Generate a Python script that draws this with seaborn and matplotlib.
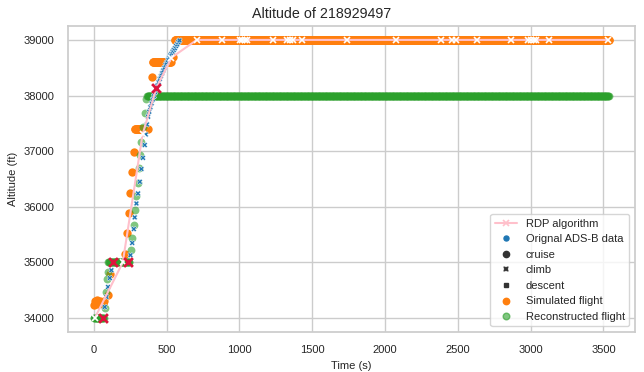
import numpy as np
import pandas as pd
import matplotlib
matplotlib.use("Agg")
import matplotlib.pyplot as plt
import seaborn as sns
from matplotlib.lines import Line2D

sns.set_theme(style="whitegrid")
plt.rcParams["font.family"] = ["Liberation Sans", "DejaVu Sans"]

FLIGHT_ID = "218929497"

# ---- RDP simplified trajectory (vertices) ----
rdp_t = [7, 199, 335, 430, 533, 707, 883, 1002, 1020, 1038, 1055, 1228, 1325,
         1345, 1366, 1428, 1736, 2075, 2386, 2462, 2485, 2632, 2867, 2979,
         3004, 3020, 3038, 3123, 3535]
rdp_alt = [34000, 35000, 37300, 38140, 38680, 39000, 39000, 39000, 39000,
           39000, 39000, 39000, 39000, 39000, 39000, 39000, 39000, 39000,
           39000, 39000, 39000, 39000, 39000, 39000, 39000, 39000, 39000,
           39000, 39000]

# ---- Original ADS-B data ----
adsb_climb_t = [75, 87, 98, 110, 121, 252, 264, 275, 281, 293, 304, 316, 327,
                338, 350, 357, 365, 373, 381, 389, 397, 405, 413, 421, 429,
                437, 445, 453, 461, 469, 477, 485, 493, 501, 509, 517, 525,
                533, 541, 549, 557, 565, 573, 581, 589]
adsb_climb_alt = [34200, 34380, 34560, 34720, 34860, 35130, 35350, 35600,
                  35810, 36060, 36240, 36450, 36680, 36880, 37110, 37300,
                  37480, 37620, 37710, 37790, 37860, 37930, 37990, 38060,
                  38120, 38180, 38240, 38300, 38350, 38400, 38450, 38500,
                  38550, 38590, 38640, 38680, 38720, 38750, 38790, 38820,
                  38850, 38890, 38920, 38960, 38990]
# level (cruise) segments of the ADS-B track: (start, end, altitude)
adsb_cruise_levels = [(0, 60, 34000), (130, 245, 35000), (595, 3540, 39000)]
phase_order = ["cruise", "climb", "descent"]

# ---- Simulated flight ----
sim_t = [0, 8, 16, 24, 32, 40, 50, 60, 70, 96, 110, 213, 229, 240, 252, 263,
         274, 400, 545]
sim_alt = [34230, 34300, 34280, 34320, 34250, 34300, 34280, 34260, 34300,
           34410, 34800, 35160, 35530, 35890, 36250, 36620, 36980, 38340,
           38690]
sim_levels = [(282, 372, 37400), (405, 530, 38600), (556, 3540, 39000)]

# ---- Reconstructed flight ----
rec_t = [75, 87, 92, 98, 259, 265, 274, 281, 293, 304, 311, 320, 327, 338,
         350, 357]
rec_alt = [34180, 34470, 34700, 34830, 35220, 35440, 35670, 35940, 36190,
           36430, 36690, 36930, 37170, 37440, 37680, 37930]
rec_levels = [(0, 70, 34000), (100, 247, 35000), (365, 3540, 38000)]

# ---- Phase change points ----
change_t = [62, 130, 233, 430]
change_alt = [34000, 35000, 35000, 38140]

LEVEL_STEP = 4


def with_levels(t, alt, levels):
    """Append constant-altitude runs sampled every LEVEL_STEP seconds."""
    ts, alts = list(t), list(alt)
    for start, end, level in levels:
        run = np.arange(start, end + 1, LEVEL_STEP)
        ts.extend(run.tolist())
        alts.extend([level] * len(run))
    order = np.argsort(ts, kind="stable")
    return np.asarray(ts)[order], np.asarray(alts)[order]


sim_tt, sim_aa = with_levels(sim_t, sim_alt, sim_levels)
rec_tt, rec_aa = with_levels(rec_t, rec_alt, rec_levels)

cruise_t, cruise_alt = with_levels([], [], adsb_cruise_levels)
adsb = pd.DataFrame({
    "time": np.concatenate([cruise_t, adsb_climb_t]),
    "alt": np.concatenate([cruise_alt, adsb_climb_alt]),
    "phase": ["cruise"] * len(cruise_t) + ["climb"] * len(adsb_climb_t),
})
adsb["phase"] = pd.Categorical(adsb["phase"], categories=phase_order)

rdp = pd.DataFrame({"time": rdp_t, "alt": rdp_alt})
sim = pd.DataFrame({"time": sim_tt, "alt": sim_aa})
rec = pd.DataFrame({"time": rec_tt, "alt": rec_aa})
chg = pd.DataFrame({"time": change_t, "alt": change_alt})

fig = plt.figure(figsize=(6.44, 3.72), dpi=100)
ax = fig.add_axes([68 / 644, 40 / 372, (635 - 68) / 644, (332 - 26) / 372])

blue, orange, green = "tab:blue", "tab:orange", "tab:green"
markers = {"cruise": "o", "climb": "X", "descent": "s"}

sns.lineplot(data=rdp, x="time", y="alt", color="pink", marker="x",
             markersize=5, markeredgewidth=1.2, linewidth=1.5,
             estimator=None, sort=False, ax=ax, zorder=5, legend=False)
# level-flight ADS-B samples sit underneath the simulated track
for phase, z in (("cruise", 1), ("climb", 4)):
    sns.scatterplot(data=adsb[adsb["phase"] == phase], x="time", y="alt",
                    style="phase", style_order=phase_order, markers=markers,
                    color=blue, s=16, linewidth=0.3, edgecolor="white",
                    ax=ax, zorder=z, legend=False)
sns.scatterplot(data=sim, x="time", y="alt", color=orange, s=36,
                linewidth=0, ax=ax, zorder=2, legend=False)
sns.scatterplot(data=rec, x="time", y="alt", color=green, s=32, alpha=0.6,
                linewidth=0, ax=ax, zorder=3, legend=False)
sns.scatterplot(data=chg, x="time", y="alt", color="crimson", marker="x",
                s=40, linewidth=2, ax=ax, zorder=6, legend=False)

fig.suptitle(f"Altitude of {FLIGHT_ID}", x=0.5, y=0.982, fontsize=10.3,
             color=".15")
ax.set_xlabel("Time (s)", fontsize=8)
ax.set_ylabel("Altitude (ft)", fontsize=8)
ax.tick_params(labelsize=8)
ax.set_xticks(range(0, 3501, 500))
ax.set_yticks(range(34000, 39001, 1000))

dark = ".2"
handles = [
    Line2D([], [], color="pink", marker="x", lw=1.5, ms=5, mew=1.2),
    Line2D([], [], ls="", marker="o", color=blue, ms=3.6),
    Line2D([], [], ls="", marker="o", color=dark, ms=4.5),
    Line2D([], [], ls="", marker="X", color=dark, ms=4.5, mec="white", mew=0.3),
    Line2D([], [], ls="", marker="s", color=dark, ms=3.3),
    Line2D([], [], ls="", marker="o", color=orange, ms=4.6),
    Line2D([], [], ls="", marker="o", color=green, ms=4.8, alpha=0.6),
]
labels = ["RDP algorithm", "Orignal ADS-B data", "cruise", "climb", "descent",
          "Simulated flight", "Reconstructed flight"]
ax.legend(handles, labels, loc="lower right", fontsize=8)

fig.savefig("out.png", dpi=100)
